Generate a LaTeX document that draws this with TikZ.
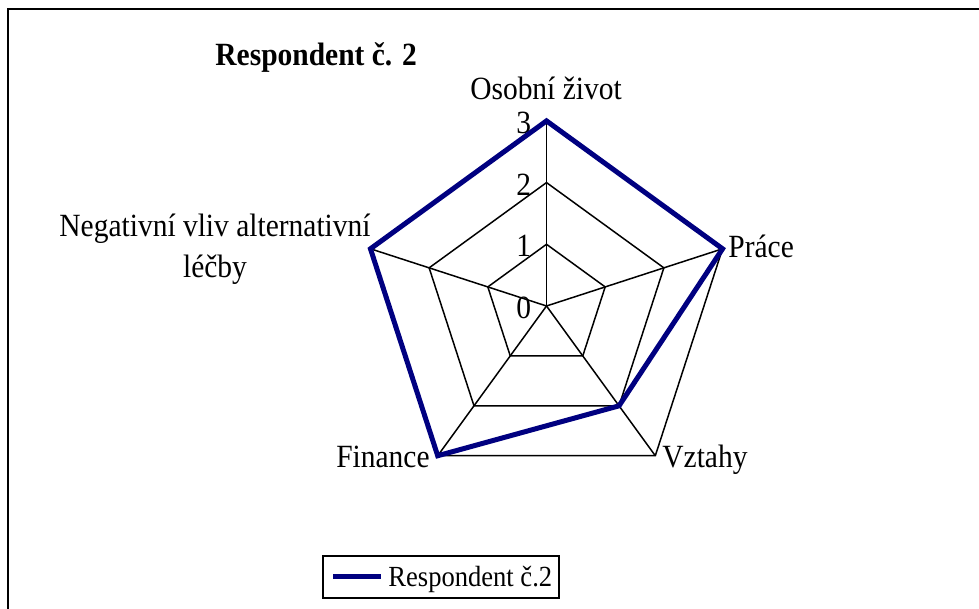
\documentclass[tikz,border=0pt]{standalone}
\usepackage{fontspec}
\setmainfont{Liberation Serif}[FakeStretch=0.91]
\definecolor{navy}{RGB}{0,0,128}
\begin{document}
\begin{tikzpicture}[x=0.5pt,y=0.5pt,
    font=\fontsize{16.2}{20.5}\selectfont,
    every node/.style={inner sep=0pt},
    grid/.style={black,line width=0.75pt},
    serie/.style={navy,line width=2.5pt,line join=miter},
    tick/.style={anchor=east}]
  \useasboundingbox (0,0) rectangle (979,609);
  \draw [line width=1pt] (8,0) -- (8,600) -- (979,600);
  \node [anchor=base west,font=\fontsize{16.2}{18}\selectfont\bfseries] (title) at (215,543) {Respondent č. 2};
  \begin{scope}[shift={(546.5,303)}]
    \foreach \a [count=\i] in {90,18,-54,-126,162}
      \foreach \lv in {0,1,2,3}
        \coordinate (p\lv-\i) at (\a:\lv*61.7);
    \foreach \lv in {1,2,3}
      \draw [grid] (p\lv-1) -- (p\lv-2) -- (p\lv-3) -- (p\lv-4) -- (p\lv-5) -- cycle;
    \foreach \i in {1,...,5}
      \draw [grid] (p0-1) -- (p3-\i);
    \foreach \lv in {0,1,2,3}
      \node [tick] (t\lv) at (-15,\lv*61.7-2) {\lv};
    \draw [serie] (p3-1) -- (p3-2) -- (p2-3) -- (p3-4) -- (p3-5) -- cycle;
  \end{scope}
  \node [anchor=base] (osobni) at (546,509) {Osobní život};
  \node [anchor=base west] (prace) at (728,351) {Práce};
  \node [anchor=base west] (vztahy) at (662,141) {Vztahy};
  \node [anchor=base east] (finance) at (430,141) {Finance};
  \node [anchor=base,align=center] (negativni) at (215,331) {Negativní vliv alternativní\\léčby};
  \node [draw,line width=1pt,minimum width=118pt,minimum height=21pt] (legend) at (441,32) {};
  \coordinate (l1) at (333,32);
  \coordinate (l2) at (381,32);
  \draw [serie,line cap=butt] (l1) -- (l2);
  \node [anchor=base west,font=\fontsize{14.6}{16}\selectfont] (ltext) at (388,22) {Respondent č.2};
\end{tikzpicture}
\end{document}
